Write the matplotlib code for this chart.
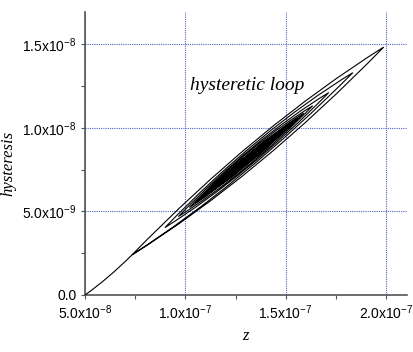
import matplotlib
matplotlib.use("Agg")
import matplotlib.pyplot as plt
from matplotlib.path import Path
from matplotlib.patches import PathPatch
from matplotlib.ticker import MultipleLocator

plt.rcParams["mathtext.fontset"] = "custom"
plt.rcParams["mathtext.rm"] = "Liberation Sans"
plt.rcParams["mathtext.it"] = "Liberation Sans:italic"

# start of the curve and the tail up to the first left tip
z_start, h_start = 5.0e-8, 0.0
z_tail_ctrl, h_tail_ctrl = 6.17e-8, 1.0e-9

# turning points of the loop (inner ones estimated)
z_right = [1.989e-7, 1.835e-7, 1.715e-7, 1.635e-7, 1.590e-7, 1.560e-7, 1.540e-7,
           1.520e-7, 1.505e-7, 1.490e-7, 1.480e-7, 1.470e-7, 1.460e-7, 1.450e-7,
           1.440e-7, 1.430e-7, 1.420e-7, 1.410e-7, 1.400e-7, 1.390e-7]
h_right = [14.83e-9, 13.30e-9, 12.11e-9, 11.32e-9, 10.88e-9, 10.58e-9, 10.38e-9,
           10.18e-9, 10.04e-9, 9.89e-9, 9.79e-9, 9.69e-9, 9.59e-9, 9.49e-9,
           9.39e-9, 9.29e-9, 9.19e-9, 9.10e-9, 9.00e-9, 8.90e-9]
z_left = [0.734e-7, 0.898e-7, 0.965e-7, 1.020e-7, 1.050e-7, 1.070e-7, 1.085e-7,
          1.095e-7, 1.105e-7, 1.115e-7, 1.125e-7, 1.130e-7, 1.140e-7, 1.145e-7,
          1.150e-7, 1.155e-7, 1.160e-7, 1.165e-7, 1.170e-7, 1.175e-7]
h_left = [2.40e-9, 4.03e-9, 4.69e-9, 5.23e-9, 5.53e-9, 5.73e-9, 5.88e-9,
          5.98e-9, 6.08e-9, 6.17e-9, 6.27e-9, 6.32e-9, 6.42e-9, 6.47e-9,
          6.52e-9, 6.57e-9, 6.62e-9, 6.67e-9, 6.72e-9, 6.77e-9]
# half width of each loop (vertical, in hysteresis units)
loop_width = [7.5e-10, 6.0e-10, 4.8e-10, 3.9e-10, 2.9e-10, 2.6e-10, 2.3e-10,
              2.05e-10, 1.85e-10, 1.65e-10, 1.5e-10, 1.35e-10, 1.2e-10, 1.05e-10,
              0.95e-10, 0.85e-10, 0.7e-10, 0.6e-10, 0.5e-10, 0.4e-10]

x_ticks = [5e-8, 1e-7, 1.5e-7, 2e-7]
x_labels = ["5.0x10$^{-8}$", "1.0x10$^{-7}$", "1.5x10$^{-7}$", "2.0x10$^{-7}$"]
y_ticks = [0, 5e-9, 1e-8, 1.5e-8]
y_labels = ["0.0", "5.0x10$^{-9}$", "1.0x10$^{-8}$", "1.5x10$^{-8}$"]

# build the curve: tail, then lower branch going right, upper branch going left
verts = [(z_start, h_start), (z_tail_ctrl, h_tail_ctrl), (z_left[0], h_left[0])]
codes = [Path.MOVETO, Path.CURVE3, Path.CURVE3]
cur = (z_left[0], h_left[0])
for k in range(len(z_right)):
    r = (z_right[k], h_right[k])
    l = (z_left[k], h_left[k])
    w = loop_width[k]
    verts += [((cur[0] + r[0]) / 2, (cur[1] + r[1]) / 2 - 2 * w), r]
    verts += [((r[0] + l[0]) / 2, (r[1] + l[1]) / 2 + 2 * w), l]
    codes += [Path.CURVE3] * 4
    cur = l

fig = plt.figure(figsize=(4.13, 3.52), dpi=100)
ax = fig.add_axes([0.206, 0.162, 0.779, 0.804])

ax.add_patch(PathPatch(Path(verts, codes), facecolor="none", edgecolor="black",
                       lw=0.8, zorder=3))

ax.set_xlim(5e-8, 2.104e-7)
ax.set_ylim(0, 1.693e-8)
ax.set_xticks(x_ticks)
ax.set_xticklabels(x_labels)
ax.set_yticks(y_ticks)
ax.set_yticklabels(y_labels)
ax.xaxis.set_minor_locator(MultipleLocator(2.5e-8))
ax.yaxis.set_minor_locator(MultipleLocator(2.5e-9))

ax.grid(True, which="major", color="#4a64c8", linestyle=(0, (1, 1)), lw=0.8)
ax.set_axisbelow(True)

for s in ["top", "right"]:
    ax.spines[s].set_visible(False)
for s in ["left", "bottom"]:
    ax.spines[s].set_color("#555555")
    ax.spines[s].set_linewidth(1.2)

ax.tick_params(which="both", direction="out", length=3, width=0.8,
               color="#555555", labelsize=10, pad=3)
for lab in ax.get_xticklabels() + ax.get_yticklabels():
    lab.set_fontfamily("Liberation Sans")

ax.set_xlabel("z", family="Liberation Serif", style="italic", fontsize=12)
ax.set_ylabel("hysteresis", family="Liberation Serif", style="italic", fontsize=12)
ax.xaxis.set_label_coords(0.497, -0.115)
ax.yaxis.set_label_coords(-0.215, 0.466)

ax.text(0.326, 0.724, "hysteretic loop", transform=ax.transAxes,
        family="Liberation Serif", style="italic", fontsize=14)

fig.savefig("out.png", dpi=100)
